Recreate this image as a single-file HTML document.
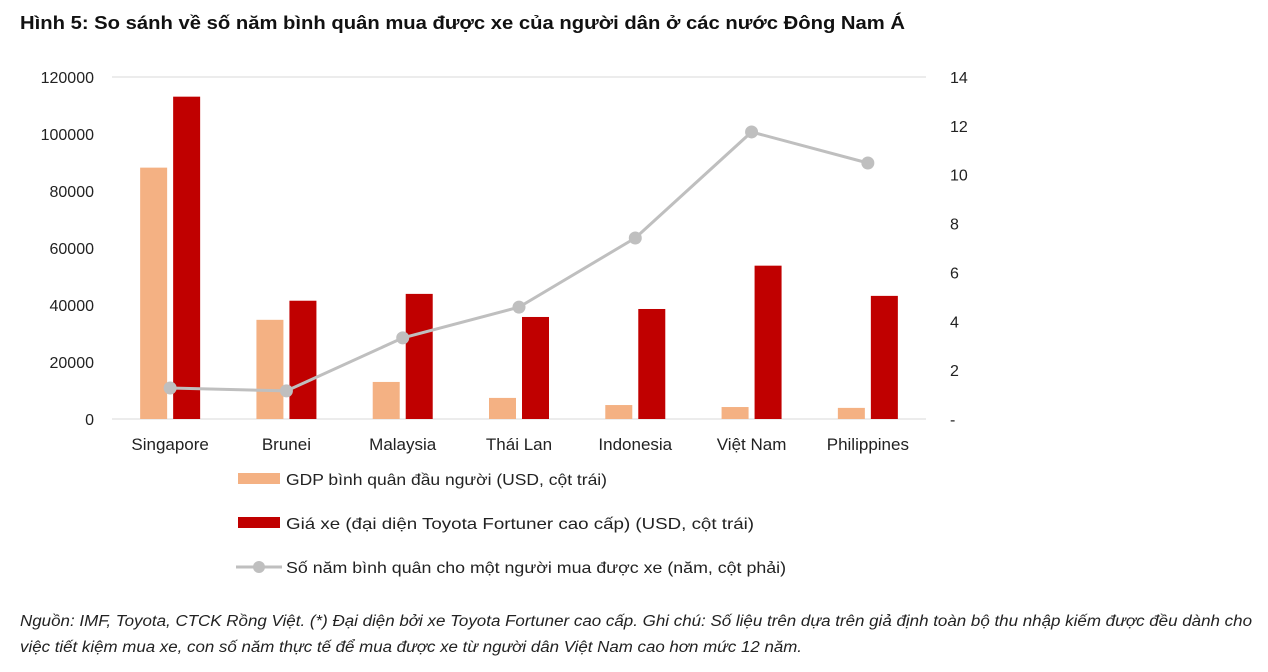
<!DOCTYPE html>
<html><head><meta charset="utf-8"><style>
body{margin:0;background:#fff;width:1268px;height:667px;overflow:hidden;font-family:"Liberation Sans",sans-serif;}
</style></head><body>
<svg width="1268" height="667" xmlns="http://www.w3.org/2000/svg">
<text x="20" y="29" font-size="18" font-weight="bold" fill="#111" textLength="885" lengthAdjust="spacingAndGlyphs">Hình 5: So sánh về số năm bình quân mua được xe của người dân ở các nước Đông Nam Á</text>
<g id="axes"></g><g id="bars"></g><g id="line"></g>
<g font-size="16" fill="#222">
<rect x="238" y="473" width="42" height="11" fill="#f4b183"/>
<text x="286" y="485" textLength="321" lengthAdjust="spacingAndGlyphs">GDP bình quân đầu người (USD, cột trái)</text>
<rect x="238" y="517" width="42" height="11" fill="#c00000"/>
<text x="286" y="529" textLength="468" lengthAdjust="spacingAndGlyphs">Giá xe (đại diện Toyota Fortuner cao cấp) (USD, cột trái)</text>
<line x1="236" y1="567" x2="282" y2="567" stroke="#bfbfbf" stroke-width="3"/>
<circle cx="259" cy="567" r="6" fill="#bfbfbf"/>
<text x="286" y="573" textLength="500" lengthAdjust="spacingAndGlyphs">Số năm bình quân cho một người mua được xe (năm, cột phải)</text>
</g>
<text x="20" y="626" font-size="15.5" font-style="italic" fill="#222" textLength="1232" lengthAdjust="spacingAndGlyphs">Nguồn: IMF, Toyota, CTCK Rồng Việt. (*) Đại diện bởi xe Toyota Fortuner cao cấp. Ghi chú: Số liệu trên dựa trên giả định toàn bộ thu nhập kiếm được đều dành cho</text>
<text x="20" y="652" font-size="15.5" font-style="italic" fill="#222" textLength="782" lengthAdjust="spacingAndGlyphs">việc tiết kiệm mua xe, con số năm thực tế để mua được xe từ người dân Việt Nam cao hơn mức 12 năm.</text>
</svg>
<script>
const categories=["Singapore","Brunei","Malaysia","Thái Lan","Indonesia","Việt Nam","Philippines"];
const gdpValues=[88200,34800,13000,7400,4900,4200,3900];
const carValues=[113100,41500,43900,35800,38600,53800,43200];
const yearValues=[1.27,1.15,3.32,4.58,7.41,11.75,10.48];
const leftTicks=[0,20000,40000,60000,80000,100000,120000];
const rightTicks=[0,2,4,6,8,10,12,14];
const NS="http://www.w3.org/2000/svg";
const x0=112,x1=926,yb=419,yt=77;
const yL=v=>yb-(v/120000)*(yb-yt);
const yR=v=>yb-(v/14)*(yb-yt);
const bw=(x1-x0)/categories.length;
const xc=i=>x0+bw*(i+0.5);
function mk(t,a,p){const e=document.createElementNS(NS,t);for(const k in a)e.setAttribute(k,a[k]);p.appendChild(e);return e;}
const ax=document.getElementById('axes'),bars=document.getElementById('bars'),ln=document.getElementById('line');
let g=mk('line',{x1:x0,x2:x1,y1:yt,y2:yt,stroke:'#d9d9d9'},ax);


let a=mk('line',{x1:x0,x2:x1,y1:yb,y2:yb,stroke:'#d9d9d9'},ax);


leftTicks.forEach(v=>{const t=mk('text',{x:94,y:yL(v)+6,'text-anchor':'end','font-size':16,fill:'#222'},ax);t.textContent=v;

});
rightTicks.forEach(v=>{const t=mk('text',{x:950,y:yR(v)+6,'font-size':16,fill:'#222'},ax);t.textContent=v===0?'-':v;

});
categories.forEach((c,i)=>{const t=mk('text',{x:xc(i),y:450,'text-anchor':'middle','font-size':17,fill:'#222'},ax);t.textContent=c;


const r1=mk('rect',{x:xc(i)-30,y:yL(gdpValues[i]),width:27,height:yb-yL(gdpValues[i]),fill:'#f4b183'},bars);


const r2=mk('rect',{x:xc(i)+3,y:yL(carValues[i]),width:27,height:yb-yL(carValues[i]),fill:'#c00000'},bars);

});
const pl=mk('polyline',{points:yearValues.map((v,i)=>xc(i)+','+yR(v)).join(' '),fill:'none',stroke:'#bfbfbf','stroke-width':3},ln);


yearValues.forEach((v,i)=>{const c=mk('circle',{cx:xc(i),cy:yR(v),r:6.5,fill:'#bfbfbf'},ln);

});
</script>
</body></html>
